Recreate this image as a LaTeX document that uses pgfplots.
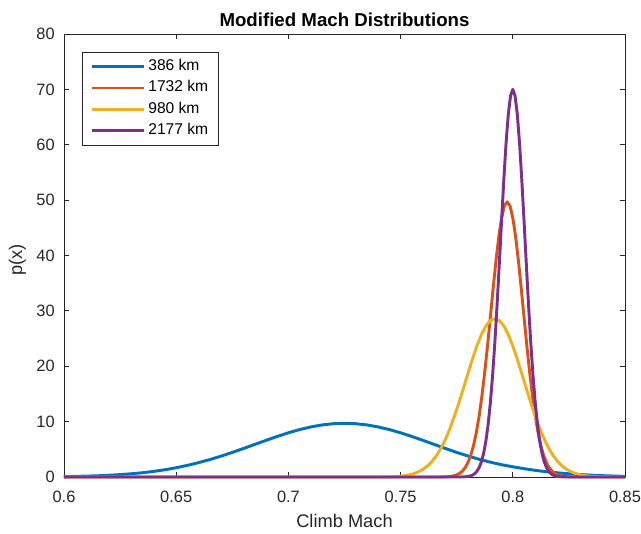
\documentclass[border=0pt]{standalone}
\usepackage{fontspec}
\setmainfont{Liberation Sans}
\usepackage{pgfplots}
\pgfplotsset{compat=1.18}
\definecolor{mblue}{rgb}{0,0.447,0.741}
\definecolor{morange}{rgb}{0.850,0.325,0.098}
\definecolor{myellow}{rgb}{0.929,0.694,0.125}
\definecolor{mpurple}{rgb}{0.494,0.184,0.556}
\definecolor{axgray}{rgb}{0.15,0.15,0.15}
\begin{document}
\begin{tikzpicture}
\begin{axis}[
  scale only axis,
  width=420.75pt, height=332.25pt,
  xmin=0.6, xmax=0.85, ymin=0, ymax=80,
  xtick={0.6,0.65,0.7,0.75,0.8,0.85},
  xticklabels={0.6,0.65,0.7,0.75,0.8,0.85},
  ytick={0,10,20,30,40,50,60,70,80},
  tick align=inside, xtick pos=both, ytick pos=both,
  major tick length=4pt,
  axis line style={axgray, line width=0.6pt},
  every tick/.style={axgray, line width=0.6pt},
  tick label style={font=\fontsize{12.3}{14}\selectfont, text=axgray, inner sep=0pt},
  xticklabel style={anchor=center, yshift=-14.6pt},
  yticklabel style={anchor=east, xshift=-6.75pt},
  /pgf/number format/assume math mode=true,
  title={\bfseries Modified Mach Distributions},
  title style={at={(axis description cs:0.5,1.0135)}, anchor=center, font=\fontsize{14}{16}\selectfont, inner sep=0pt},
  xlabel={Climb Mach},
  ylabel={p(x)},
  xlabel style={at={(axis description cs:0.5,-0.0999)}, anchor=center, font=\fontsize{13.7}{16}\selectfont, text=axgray, inner sep=0pt},
  ylabel style={at={(axis description cs:-0.0829,0.49)}, anchor=center, font=\fontsize{13.7}{16}\selectfont, text=axgray, inner sep=0pt},
  clip=false,
  legend cell align=left,
  legend image code/.code={\draw[#1] (0pt,0pt) -- (39.5pt,0pt);},
  legend style={at={(axis description cs:0.0321,0.9594)}, anchor=north west,
    draw=axgray, line width=0.5pt, fill=white,
    font=\fontsize{11.7}{13}\selectfont,
    inner xsep=6pt, inner ysep=2.6pt,
    nodes={text height=8.5pt, text depth=2.6pt, inner ysep=2.5pt, inner xsep=1.8pt}},
  every axis plot/.append style={line width=2.2pt, line join=round},
]
\addplot[mblue] table {
0.600 0.07
0.605 0.11
0.610 0.16
0.615 0.22
0.620 0.31
0.625 0.43
0.630 0.58
0.635 0.77
0.640 1.01
0.645 1.31
0.650 1.67
0.655 2.10
0.660 2.59
0.665 3.15
0.670 3.77
0.675 4.44
0.680 5.15
0.685 5.88
0.690 6.61
0.695 7.32
0.700 7.98
0.705 8.56
0.710 9.04
0.715 9.40
0.720 9.62
0.725 9.70
0.730 9.62
0.735 9.40
0.740 9.04
0.745 8.56
0.750 7.98
0.755 7.32
0.760 6.61
0.765 5.88
0.770 5.15
0.775 4.44
0.780 3.79
0.785 3.20
0.790 2.67
0.795 2.22
0.800 1.84
0.805 1.50
0.810 1.20
0.815 0.95
0.820 0.75
0.825 0.58
0.830 0.44
0.835 0.33
0.840 0.24
0.845 0.17
0.850 0.12
};
\addlegendentry{386 km}
\addplot[morange] table {
0.600 0
0.76750 0
0.77000 0.03
0.77125 0.06
0.77250 0.12
0.77375 0.22
0.77500 0.38
0.77625 0.64
0.77750 1.05
0.77875 1.67
0.78000 2.59
0.78125 3.89
0.78250 5.67
0.78375 8.03
0.78500 11.01
0.78625 14.66
0.78750 18.95
0.78875 23.75
0.79000 28.89
0.79125 34.10
0.79250 39.05
0.79375 43.40
0.79500 46.79
0.79625 48.96
0.79750 49.70
0.79875 48.96
0.80000 46.79
0.80125 43.40
0.80250 39.05
0.80375 34.10
0.80500 28.89
0.80625 23.75
0.80750 18.95
0.80875 14.66
0.81000 11.01
0.81125 8.03
0.81250 5.67
0.81375 3.89
0.81500 2.59
0.81625 1.67
0.81750 1.05
0.81875 0.64
0.82000 0.38
0.82125 0.22
0.82250 0.12
0.82375 0.06
0.82500 0.03
0.82750 0
0.850 0
};
\addlegendentry{1732 km}
\addplot[myellow] table {
0.600 0
0.740 0.00
0.744 0.03
0.746 0.05
0.748 0.09
0.750 0.15
0.752 0.25
0.754 0.40
0.756 0.62
0.758 0.94
0.760 1.38
0.762 2.00
0.764 2.81
0.766 3.87
0.768 5.20
0.770 6.83
0.772 8.76
0.774 10.97
0.776 13.41
0.778 16.02
0.780 18.68
0.782 21.28
0.784 23.67
0.786 25.71
0.788 27.28
0.790 28.26
0.792 28.60
0.794 28.26
0.796 27.28
0.798 25.71
0.800 23.67
0.802 21.28
0.804 18.68
0.806 16.02
0.808 13.41
0.810 10.97
0.812 8.76
0.814 6.83
0.816 5.20
0.818 3.87
0.820 2.81
0.822 2.00
0.824 1.38
0.826 0.94
0.828 0.62
0.830 0.40
0.832 0.25
0.834 0.15
0.836 0.09
0.838 0.05
0.840 0.03
0.844 0.00
0.850 0
};
\addlegendentry{980 km}
\addplot[mpurple] table {
0.600 0
0.776 0.00
0.778 0.02
0.779 0.05
0.780 0.09
0.781 0.18
0.782 0.33
0.783 0.59
0.784 1.02
0.785 1.70
0.786 2.74
0.787 4.28
0.788 6.48
0.789 9.47
0.790 13.41
0.791 18.35
0.792 24.30
0.793 31.14
0.794 38.61
0.795 46.31
0.796 53.73
0.797 60.33
0.798 65.52
0.799 68.85
0.800 70.00
0.801 68.85
0.802 65.52
0.803 60.33
0.804 53.73
0.805 46.31
0.806 38.61
0.807 31.14
0.808 24.30
0.809 18.35
0.810 13.41
0.811 9.47
0.812 6.48
0.813 4.28
0.814 2.74
0.815 1.70
0.816 1.02
0.817 0.59
0.818 0.33
0.819 0.18
0.820 0.09
0.821 0.05
0.822 0.02
0.824 0.00
0.850 0
};
\addlegendentry{2177 km}
\end{axis}
\path ([shift={(-48pt,-42.75pt)}]current axis.south west) rectangle ([shift={(12pt,25.5pt)}]current axis.north east);
\end{tikzpicture}
\end{document}
